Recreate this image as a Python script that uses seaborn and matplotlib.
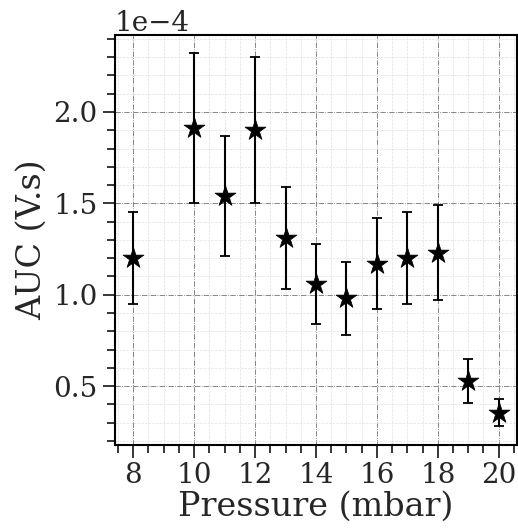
"""
AUC versus pressure, star markers with error bars.
"""

import numpy as np
import pandas as pd
import matplotlib
matplotlib.use("Agg")
import matplotlib.pyplot as plt
import seaborn as sns
from matplotlib.ticker import MultipleLocator

# data (AUC in V.s)
pressure = [8, 10, 11, 12, 13, 14, 15, 16, 17, 18, 19, 20]
auc = [1.20e-4, 1.91e-4, 1.54e-4, 1.90e-4, 1.31e-4, 1.06e-4,
       0.98e-4, 1.17e-4, 1.20e-4, 1.23e-4, 0.53e-4, 0.355e-4]
auc_err = [0.25e-4, 0.41e-4, 0.33e-4, 0.40e-4, 0.28e-4, 0.22e-4,
           0.20e-4, 0.25e-4, 0.25e-4, 0.26e-4, 0.12e-4, 0.076e-4]

df = pd.DataFrame({"Pressure (mbar)": pressure, "AUC (V.s)": auc, "err": auc_err})

sns.set_style("white")
plt.rcParams["font.family"] = ["DejaVu Serif"]
plt.rcParams["font.size"] = 20
plt.rcParams["axes.formatter.use_mathtext"] = False

fig = plt.figure(figsize=(5.18, 5.28), dpi=100)
ax = fig.add_axes([0.222, 0.157, 0.776, 0.777])

# error bars first, markers on top
ax.errorbar(df["Pressure (mbar)"], df["AUC (V.s)"], yerr=df["err"], fmt="none",
            ecolor="black", elinewidth=1.5, capsize=3.8, capthick=1.3, zorder=2)
sns.scatterplot(data=df, x="Pressure (mbar)", y="AUC (V.s)", marker="*",
                s=250, color="black", edgecolor="black", linewidth=0.5,
                ax=ax, zorder=3)

ax.xaxis.set_major_locator(MultipleLocator(2))
ax.xaxis.set_minor_locator(MultipleLocator(0.5))
ax.yaxis.set_major_locator(MultipleLocator(0.5e-4))
ax.yaxis.set_minor_locator(MultipleLocator(0.1e-4))
ax.ticklabel_format(axis="y", style="sci", scilimits=(0, 0))
ax.yaxis.get_offset_text().set_fontsize(20)

ax.tick_params(which="major", direction="out", length=9, width=1.3,
               labelsize=20, bottom=True, left=True, top=False, right=False)
ax.tick_params(which="minor", direction="out", length=6, width=1.3,
               bottom=True, left=True, top=False, right=False)

ax.grid(which="major", linestyle="-.", color="0.45", linewidth=0.6)
ax.grid(which="minor", linestyle="--", color="0.88", linewidth=0.5)
ax.set_axisbelow(True)

for spine in ax.spines.values():
    spine.set_color("black")
    spine.set_linewidth(1.5)

ax.set_xlabel("Pressure (mbar)", fontsize=24, labelpad=1)
ax.set_ylabel("AUC (V.s)", fontsize=24, labelpad=4)

fig.savefig("out.png", dpi=100)
plt.close(fig)
